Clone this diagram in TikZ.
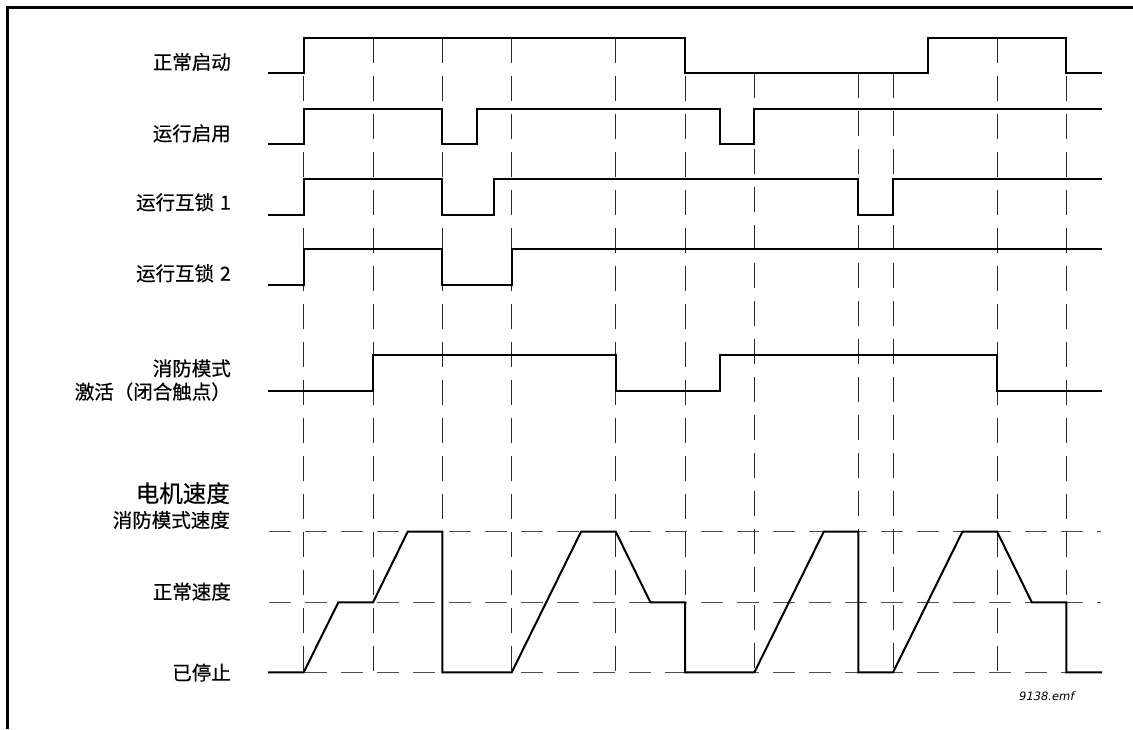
\documentclass[tikz,border=0pt]{standalone}
\usepackage{fontspec}
\newfontfamily\cjk[FakeBold=0.45]{Noto Sans CJK SC}
\newfontfamily\dvs{DejaVu Sans}
\begin{document}
\begin{tikzpicture}[x=1pt,y=-1pt,
  sig/.style={line width=2pt, line join=miter, line cap=rect},
  vgrid/.style={line width=1pt, black!85, dash pattern=on 25pt off 13pt},
  hgrid/.style={line width=1.4pt, black!70, dash pattern=on 22pt off 14pt},
  lbl/.style={anchor=base east, inner sep=0pt, font=\cjk\fontsize{19.5}{22}\selectfont},
  biglbl/.style={anchor=base east, inner sep=0pt, font=\cjk\fontsize{23.5}{26}\selectfont},
  fnlbl/.style={anchor=base west, inner sep=0pt, font=\dvs\itshape\fontsize{11.5}{13}\selectfont},
  frameline/.style={line width=3pt}]
\useasboundingbox (0,0) rectangle (1133,729);
\draw[frameline] (7,729) -- (7,7) -- (1133,7);

\node[lbl] (l1) at (231,69.4) {正常启动};
\node[lbl] (l2) at (231,140.7) {运行启用};
\node[lbl] (l3) at (231,209.7) {运行互锁\hspace{0.3em}1};
\node[lbl] (l4) at (231,280.7) {运行互锁\hspace{0.3em}2};
\node[lbl] (l5a) at (231,375.7) {消防模式};
\node[lbl] (l5b) at (231,399.1) {激活（闭合触点）};
\node[biglbl] (l6) at (230,502.2) {电机速度};
\node[lbl] (l7) at (230,527.4) {消防模式速度};
\node[lbl] (l8) at (231,599.1) {正常速度};
\node[lbl] (l9) at (231,680.1) {已停止};
\node[fnlbl] (fn) at (1019,700.9) {9138.emf};

\begin{scope}[x=34.67pt, xshift=303.7pt]
  % grid
  \foreach \yy in {531.7,602.3,672.3} \draw[hgrid] (-1,\yy) -- (23,\yy);
  \foreach \u in {0,2,4,6,9,11,20,22} \draw[vgrid] (\u,38.3) -- (\u,672.3);
  \foreach \u in {13,16,17} \draw[vgrid] (\u,73.3) -- (\u,672.3);
  % signals
  \draw[sig] (-1,73.3) -- (0,73.3) -- (0,38.3) -- (11,38.3) -- (11,73.3) -- (18,73.3) -- (18,38.3) -- (22,38.3) -- (22,73.3) -- (23,73.3);
  \draw[sig] (-1,144) -- (0,144) -- (0,108.7) -- (4,108.7) -- (4,144) -- (5,144) -- (5,108.7) -- (12,108.7) -- (12,144) -- (13,144) -- (13,108.7) -- (23,108.7);
  \draw[sig] (-1,214.7) -- (0,214.7) -- (0,179.3) -- (4,179.3) -- (4,214.7) -- (5.5,214.7) -- (5.5,179.3) -- (16,179.3) -- (16,214.7) -- (17,214.7) -- (17,179.3) -- (23,179.3);
  \draw[sig] (-1,285) -- (0,285) -- (0,249.3) -- (4,249.3) -- (4,285) -- (6,285) -- (6,249.3) -- (23,249.3);
  \draw[sig] (-1,390.7) -- (2,390.7) -- (2,355) -- (9,355) -- (9,390.7) -- (12,390.7) -- (12,355) -- (20,355) -- (20,390.7) -- (23,390.7);
  % motor speed
  \draw[sig] (-1,672.3) -- (0,672.3) -- (1,602.3) -- (2,602.3) -- (3,531.7) -- (4,531.7) -- (4,672.3) -- (6,672.3) -- (8,531.7) -- (9,531.7) -- (10,602.3) -- (11,602.3) -- (11,672.3) -- (13,672.3) -- (15,531.7) -- (16,531.7) -- (16,672.3) -- (17,672.3) -- (19,531.7) -- (20,531.7) -- (21,602.3) -- (22,602.3) -- (22,672.3) -- (23,672.3);
\end{scope}
\end{tikzpicture}
\end{document}
